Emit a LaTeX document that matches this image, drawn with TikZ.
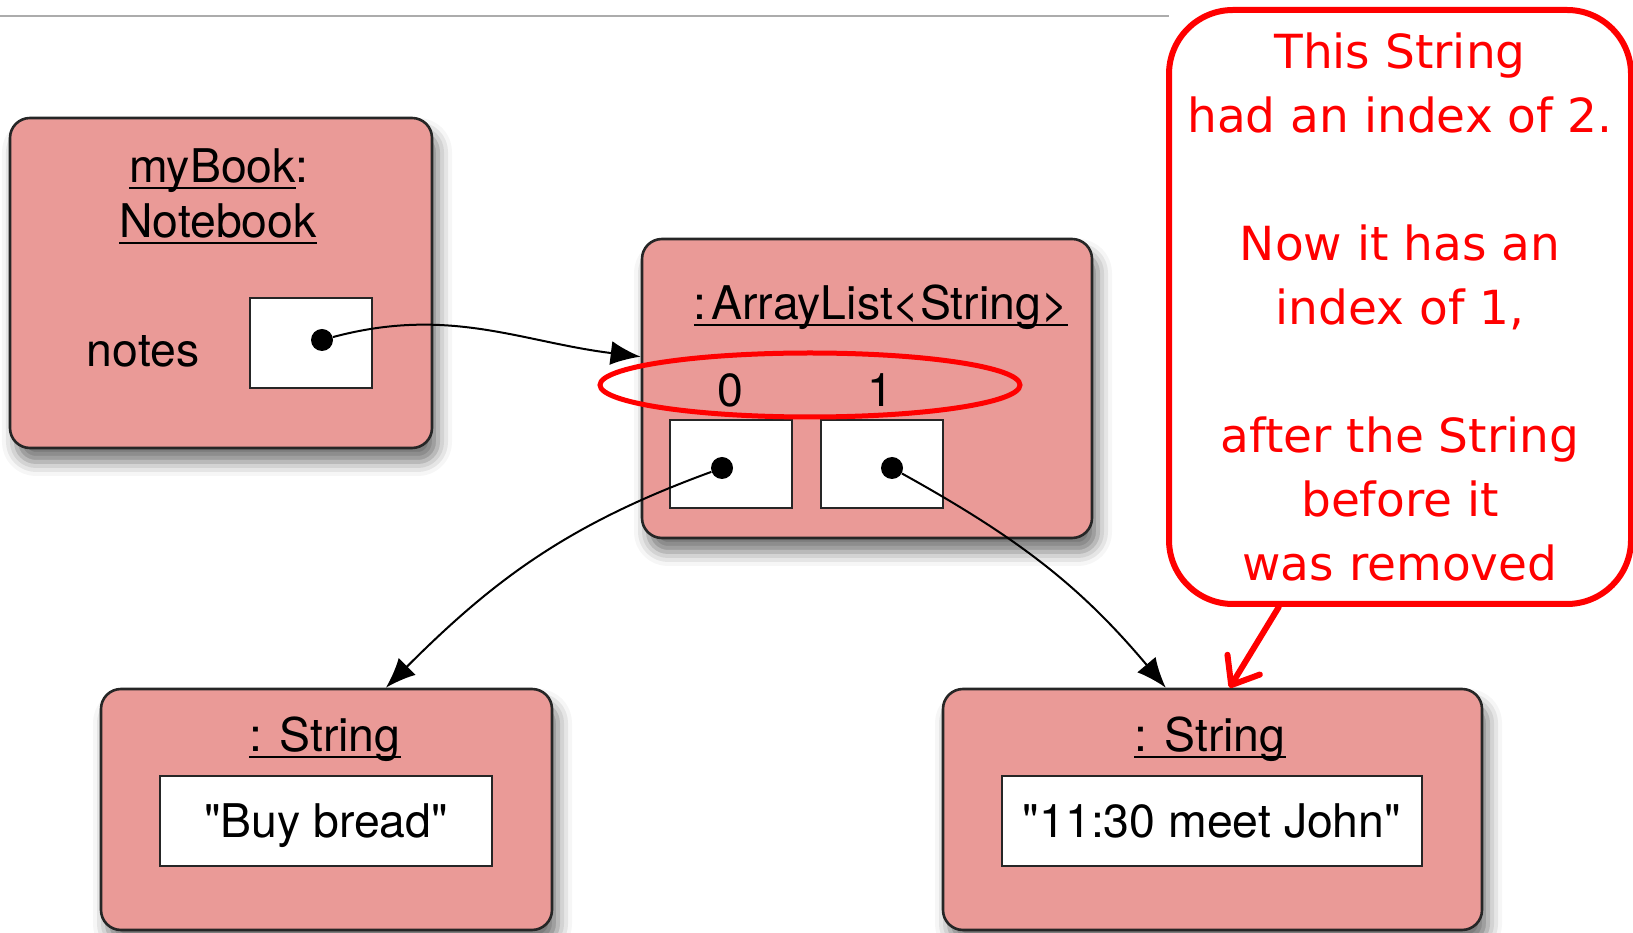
\documentclass[tikz,border=0pt]{standalone}
\usepackage{fontspec}
\setmainfont{TeX Gyre Heros}[Ligatures=TeXOff]
\newfontfamily\notefont{DejaVu Sans}
\usetikzlibrary{arrows.meta,shapes.geometric,shadows.blur}
\definecolor{objpink}{RGB}{234,154,151}
\definecolor{notered}{RGB}{255,0,0}
\newcommand\objname[1]{\setbox0\hbox{#1}\rlap{\rule[-3pt]{\wd0}{1pt}}\box0}

\begin{document}
\begin{tikzpicture}
    [x=0.5pt, y=0.5pt,
     every node/.style={font=\fontsize{23.2pt}{27pt}\selectfont},
     object/.style={rectangle, rounded corners=10pt, draw=black!85, line width=1.3pt, fill=objpink,
       blur shadow={shadow xshift=3pt, shadow yshift=-7pt, shadow blur radius=7pt, shadow opacity=55}},
     slot/.style={rectangle, draw=black!85, line width=1pt, fill=white, minimum width=61pt, minimum height=44pt, text depth=0pt},
     dot/.style={circle, fill=black, inner sep=0pt, minimum size=11pt},
     txt/.style={anchor=base, inner sep=0pt},
     ring/.style={ellipse, draw=notered, line width=2.5pt, inner sep=0pt, minimum width=210pt, minimum height=32pt},
     callout/.style={rectangle, rounded corners=32pt, draw=notered, line width=3pt, fill=white, text=notered,
       minimum width=231pt, minimum height=297pt, align=center, font=\notefont\fontsize{23.5pt}{32pt}\selectfont},
     ref/.style={line width=1pt, -{Latex[length=15pt,width=12pt]}},
     pointer/.style={draw=notered, line width=3pt, line cap=round, -{Straight Barb[length=12pt,width=19pt,round]}}]
    \useasboundingbox (0,0) rectangle (1633,932);
    \draw [gray!65, line width=1pt] (0,916) -- (1169,916);

    \node (book) [object, minimum width=211pt, minimum height=165pt] at (221,649) {};
    \node (booktitle) [txt] at (219,749) {\objname{myBook}:};
    \node (bookclass) [txt] at (218,694) {\objname{Notebook}};
    \node (noteslbl) [txt] at (143,565) {notes};
    \node (notes) [slot, minimum height=45pt] at (311,589) {};
    \node (notesref) [dot] at (322,592) {};

    \node (list) [object, minimum width=225pt, minimum height=149.5pt] at (867,543.5) {};
    \node (listtitle) [txt] at (881,612) {\objname{:\hspace{0.1em}ArrayList<String>}};
    \node (idx0) [txt] at (730,525) {0};
    \node (idx1) [txt] at (880,525) {1};
    \node (cell0) [slot] at (731,468) {};
    \node (cell1) [slot] at (882,468) {};
    \node (ref0) [dot] at (722,464) {};
    \node (ref1) [dot] at (892,464) {};
    \node (ring) [ring] at (810,547) {};

    \node (str0) [object, minimum width=225.5pt, minimum height=120.5pt] at (326.5,122.5) {};
    \node (str0title) [txt] at (325,180) {\objname{: String}};
    \node (val0) [slot, minimum width=166pt, minimum height=45pt] at (326,111) {"Buy bread"};

    \node (str1) [object, minimum width=269.5pt, minimum height=120.5pt] at (1212.5,122.5) {};
    \node (str1title) [txt] at (1210,180) {\objname{: String}};
    \node (val1) [slot, minimum width=210pt, minimum height=45pt] at (1212,111) {"11:30 meet John"};

    \draw [ref] (notesref) to [out=15, in=173] (list.172);
    \draw [ref] (ref0) to [out=200, in=45] (str0.64);
    \draw [ref] (ref1) to [out=-29, in=130] (str1.111);

    \node (note) [callout] at (1400,625) {This String\\had an index of 2.\\\mbox{}\\Now it has an\\index of 1,\\\mbox{}\\after the String\\before it\\was removed};
    \draw [pointer] (note.248) -- (str1.82);
\end{tikzpicture}
\end{document}
